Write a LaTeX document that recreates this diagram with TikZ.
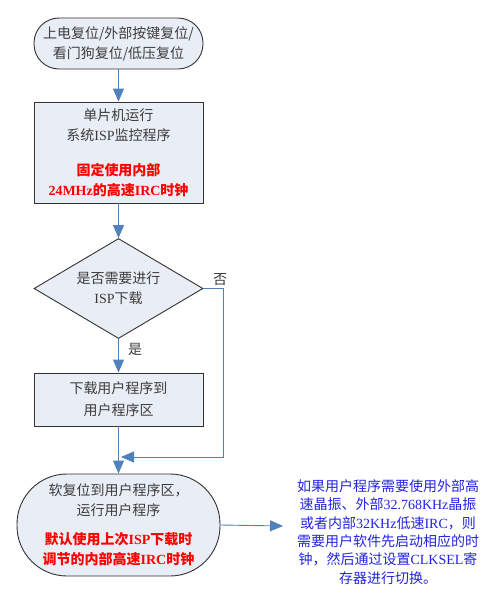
\documentclass[tikz,border=0pt]{standalone}
\usepackage{fontspec}
\setmainfont{Liberation Serif}
\newfontfamily\cjk{Noto Sans CJK SC}
\usetikzlibrary{arrows.meta,shapes.geometric}
\definecolor{fillc}{RGB}{233,238,246}
\definecolor{bordc}{RGB}{50,50,50}
\definecolor{linec}{RGB}{79,129,189}
\definecolor{textgray}{RGB}{60,60,60}
\definecolor{textblue}{RGB}{35,35,230}
\definecolor{textred}{RGB}{255,0,0}
\newcommand\lat[1]{{\rmfamily #1}}
\newcommand\redb[1]{{\color{textred}\bfseries #1}}
\begin{document}
\begin{tikzpicture}[x=1pt,y=-1pt]
\useasboundingbox[fill=white] (0,0) rectangle (488,598);
\tikzset{
  shapebox/.style={draw=bordc, fill=fillc, line width=0.9pt, align=center, inner sep=0pt,
    font=\cjk\fontsize{14}{20}\selectfont, text=textgray},
  flow/.style={draw=linec, line width=0.9pt, -{Triangle[width=11pt,length=13pt]}},
  lbl/.style={font=\cjk\fontsize{14}{20}\selectfont, text=textgray, inner sep=0pt},
}
\node[shapebox, rounded corners=25pt, minimum width=169pt, minimum height=51pt] (start) at (118.5,43.5)
  {上电复位/外部按键复位/\\看门狗复位/低压复位};
\node[shapebox, minimum width=169pt, minimum height=101pt] (isp) at (118.5,152.5)
  {单片机运行\\系统\lat{ISP}监控程序\\[15pt]\redb{固定使用内部}\\\redb{\lat{24MHz}的高速\lat{IRC}时钟}};
\node[shapebox, shape=diamond, aspect=1.69, minimum width=169pt, minimum height=100pt] (dec) at (118.5,288.5)
  {是否需要进行\\\lat{ISP}下载};
\node[shapebox, minimum width=169pt, minimum height=53pt, font=\cjk\fontsize{14}{22}\selectfont] (dl) at (118.5,399.5)
  {下载用户程序到\\用户程序区};
\node[shapebox, rounded corners=50pt, minimum width=203pt, minimum height=102pt] (run) at (118.5,525)
  {软复位到用户程序区，\\运行用户程序\\[9pt]\redb{默认使用上次\lat{ISP}下载时}\\\redb{调节的内部高速\lat{IRC}时钟}};
\node[align=center, inner sep=0pt, font=\cjk\fontsize{14}{18.4}\selectfont, text=textblue] (note) at (388,532)
  {如果用户程序需要使用外部高\\速晶振、外部\lat{32.768KHz}晶振\\或者内部\lat{32KHz}低速\lat{IRC}，则\\需要用户软件先启动相应的时\\钟，然后通过设置\lat{CLKSEL}寄\\存器进行切换。};
\node[lbl] (no) at (220,280) {否};
\node[lbl] (yes) at (135,349) {是};
\coordinate (noend) at (121,457);
\coordinate (notetip) at (283,526);
\draw[flow] (start) -- (isp);
\draw[flow] (isp) -- (dec);
\draw[flow] (dec) -- (dl);
\draw[flow] (dl) -- (run);
\draw[flow] (dec.east) -- (223,288.5) -- (223,457) -- (noend);
\draw[flow] (run.east) -- (notetip);
\end{tikzpicture}
\end{document}
